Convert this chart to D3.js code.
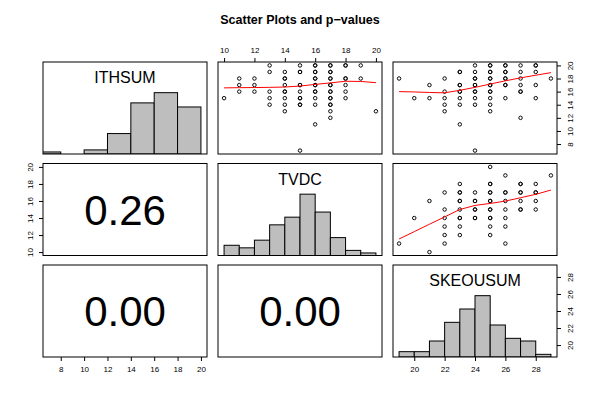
<!DOCTYPE html>
<html><head><meta charset="utf-8">
<script src="https://cdn.jsdelivr.net/npm/d3@7"></script>
<style>body{margin:0;background:#fff}svg{display:block}text{font-family:"Liberation Sans",Arial,Helvetica,sans-serif}</style>
</head><body><svg id="c" width="600" height="400"></svg>
<script>
// ---- data ----
const variables = ["ITHSUM", "TVDC", "SKEOUSUM"];
const ranges = [[7, 20], [10, 20], [19, 29]];
const tickValues = [[8, 10, 12, 14, 16, 18, 20], [10, 12, 14, 16, 18, 20], [20, 22, 24, 26, 28]];
const pValues = ["0.26", "0.00", "0.00"]; // (TVDC,ITHSUM), (SKEOUSUM,ITHSUM), (SKEOUSUM,TVDC)

// histogram breaks & counts
const histBreaks = [[6, 8, 10, 12, 14, 16, 18, 20], [10, 11, 12, 13, 14, 15, 16, 17, 18, 19, 20], [19, 20, 21, 22, 23, 24, 25, 26, 27, 28, 29]];
const histCounts = [[1, 0, 2, 10, 25, 30, 23], [4, 3, 6, 12, 15, 24, 17, 7, 2, 1], [2, 2, 6, 13, 18, 23, 12, 7, 6, 1]];

// scatter: x = TVDC, y = ITHSUM (repeated entries = overplotted observations)
const tvdcVsIth = [
  [10,15],[11,18],[11,17],[11,16],[12,18],[12,17],[12,16],
  [13,20],[13,19],[13,16],[13,15],[13,14],
  [14,19],[14,18],[14,18],[14,17],[14,16],[14,16],[14,15],[14,14],[14,13],
  [15,20],[15,19],[15,19],[15,17],[15,17],[15,16],[15,15],[15,15],[15,14],[15,14],[15,7],
  [16,20],[16,20],[16,19],[16,19],[16,18],[16,18],[16,17],[16,17],[16,16],[16,16],[16,15],[16,14],[16,11],
  [17,20],[17,20],[17,19],[17,19],[17,18],[17,18],[17,17],[17,17],[17,16],[17,16],[17,15],[17,15],[17,14],[17,14],[17,13],[17,12],
  [18,20],[18,20],[18,18],[18,18],[18,17],[18,16],[18,15],[19,20],[19,18],[20,13]
];
// scatter: x = SKEOUSUM, y = ITHSUM
const skeVsIth = [
  [19,18],[20,15],[21,17],[21,15],[22,18],[22,16],[22,15],[22,14],[22,13],
  [23,19],[23,19],[23,17],[23,17],[23,16],[23,16],[23,15],[23,14],[23,11],
  [24,20],[24,19],[24,18],[24,18],[24,17],[24,17],[24,16],[24,16],[24,15],[24,14],[24,7],
  [25,20],[25,20],[25,19],[25,19],[25,18],[25,18],[25,17],[25,17],[25,16],[25,16],[25,15],[25,14],[25,13],
  [26,20],[26,20],[26,19],[26,19],[26,18],[26,18],[26,17],[26,17],[26,15],
  [27,20],[27,19],[27,18],[27,17],[27,16],[27,16],[27,12],
  [28,20],[28,20],[28,19],[28,17],[28,15],[29,18]
];
// scatter: x = SKEOUSUM, y = TVDC
const skeVsTvdc = [
  [19,11],[20,14],[21,16],[21,10],[22,17],[22,15],[22,14],[22,13],[22,12],[22,11],
  [23,18],[23,17],[23,17],[23,16],[23,16],[23,15],[23,14],[23,14],[23,13],[23,12],
  [24,17],[24,16],[24,16],[24,15],[24,15],[24,14],[24,14],
  [25,20],[25,18],[25,18],[25,17],[25,17],[25,16],[25,16],[25,15],[25,15],[25,14],[25,14],[25,13],[25,12],
  [26,19],[26,17],[26,17],[26,16],[26,15],[26,14],[26,13],[26,11],
  [27,18],[27,18],[27,17],[27,17],[27,16],[27,15],[27,15],
  [28,18],[28,17],[28,17],[28,16],[28,15],[29,19]
];
// smoother lines
const smoothTvdcIthX = [10, 11, 12, 13, 14, 15, 16, 17, 18, 19, 20];
const smoothTvdcIthY = [16.57, 16.6, 16.62, 16.65, 16.7, 16.85, 17.1, 17.33, 17.58, 17.55, 17.37];
const smoothSkeIthX = [19, 20, 21, 22, 23, 24, 25, 26, 27, 28, 29];
const smoothSkeIthY = [16.0, 15.95, 15.87, 15.82, 16.2, 16.65, 17.15, 17.65, 18.1, 18.5, 18.9];
const smoothSkeTvdcX = [19, 20, 21, 22, 23, 24, 25, 26, 27, 28, 29];
const smoothSkeTvdcY = [11.54, 12.4, 13.27, 14.13, 15.0, 15.48, 15.71, 15.99, 16.38, 16.78, 17.28];

const title = "Scatter Plots and p\u2212values";

// ---- layout ----
const svg = d3.select("#c");
const colX = [43, 218, 393], rowY = [62, 163.5, 265], pw = 164, ph = 92;
function pad(r) { const d = (r[1] - r[0]) * 0.04; return [r[0] - d, r[1] + d]; }
const xs = ranges.map((r, j) => d3.scaleLinear().domain(pad(r)).range([colX[j], colX[j] + pw]));
const ys = ranges.map((r, i) => d3.scaleLinear().domain(pad(r)).range([rowY[i] + ph, rowY[i]]));

svg.append("text").attr("x", 300).attr("y", 24).attr("text-anchor", "middle")
  .attr("font-size", 12.5).attr("font-weight", "bold").text(title);

const defs = svg.append("defs");
for (let i = 0; i < 3; i++) for (let j = 0; j < 3; j++) {
  defs.append("clipPath").attr("id", `cp${i}${j}`).append("rect")
    .attr("x", colX[j]).attr("y", rowY[i]).attr("width", pw).attr("height", ph);
}

function scatter(i, j, pts, sx, sy) {
  const g = svg.append("g").attr("clip-path", `url(#cp${i}${j})`);
  g.selectAll("circle").data(pts).enter().append("circle")
    .attr("cx", d => xs[j](d[0])).attr("cy", d => ys[i](d[1])).attr("r", 1.75)
    .attr("fill", "none").attr("stroke", "#000").attr("stroke-width", 0.95);
  const line = d3.line().x(d => xs[j](d[0])).y(d => ys[i](d[1]));
  g.append("path").datum(sx.map((x, k) => [x, sy[k]])).attr("d", line)
    .attr("fill", "none").attr("stroke", "#ff0000").attr("stroke-width", 1);
}
scatter(0, 1, tvdcVsIth, smoothTvdcIthX, smoothTvdcIthY);
scatter(0, 2, skeVsIth, smoothSkeIthX, smoothSkeIthY);
scatter(1, 2, skeVsTvdc, smoothSkeTvdcX, smoothSkeTvdcY);

// histograms on diagonal
for (let k = 0; k < 3; k++) {
  const g = svg.append("g").attr("clip-path", `url(#cp${k}${k})`);
  const br = histBreaks[k], ct = histCounts[k], mx = d3.max(ct);
  const hy = d3.scaleLinear().domain([0, 1.5]).range([rowY[k] + ph, rowY[k]]);
  g.selectAll("rect").data(ct).enter().append("rect")
    .attr("x", (d, n) => xs[k](br[n])).attr("width", (d, n) => xs[k](br[n + 1]) - xs[k](br[n]))
    .attr("y", d => hy(d / mx)).attr("height", d => hy(0) - hy(d / mx))
    .attr("fill", "#bebebe").attr("stroke", "#000").attr("stroke-width", 1);
  svg.append("text").attr("x", colX[k] + pw / 2).attr("y", rowY[k] + 21).attr("text-anchor", "middle")
    .attr("font-size", 16).text(variables[k]);
}

// p-values in lower panels
const lower = [[1, 0, pValues[0]], [2, 0, pValues[1]], [2, 1, pValues[2]]];
lower.forEach(([i, j, t]) => {
  svg.append("text").attr("x", colX[j] + pw / 2).attr("y", rowY[i] + ph / 2 + 15)
    .attr("text-anchor", "middle").attr("font-size", 42).text(t);
});

// frames
for (let i = 0; i < 3; i++) for (let j = 0; j < 3; j++) {
  svg.append("rect").attr("x", colX[j]).attr("y", rowY[i]).attr("width", pw).attr("height", ph)
    .attr("fill", "none").attr("stroke", "#000").attr("stroke-width", 1);
}

// axes
function styleAxis(g) {
  g.select(".domain").remove();
  g.selectAll("text").attr("font-size", 8).attr("font-family", '"Liberation Sans",Arial,sans-serif').attr("fill", "#000");
  g.selectAll("line").attr("stroke", "#000");
}
function hAxis(j, top) {
  const ax = (top ? d3.axisTop(xs[j]) : d3.axisBottom(xs[j])).tickValues(tickValues[j]).tickSize(4).tickPadding(5).tickFormat(d3.format("d"));
  const g = svg.append("g").attr("transform", `translate(0,${top ? rowY[0] : rowY[2] + ph})`).call(ax);
  styleAxis(g);
}
function vAxis(i, right) {
  const ax = (right ? d3.axisRight(ys[i]) : d3.axisLeft(ys[i])).tickValues(tickValues[i]).tickSize(4).tickFormat(d3.format("d"));
  const g = svg.append("g").attr("transform", `translate(${right ? colX[2] + pw : colX[0]},0)`).call(ax);
  styleAxis(g);
  g.selectAll("text").attr("x", null).attr("dy", "0.35em").attr("text-anchor", "middle")
    .attr("transform", `translate(${right ? 13 : -13},0) rotate(-90)`);
}
hAxis(1, true);
hAxis(0, false);
hAxis(2, false);
vAxis(1, false);
vAxis(0, true);
vAxis(2, true);
</script></body></html>
